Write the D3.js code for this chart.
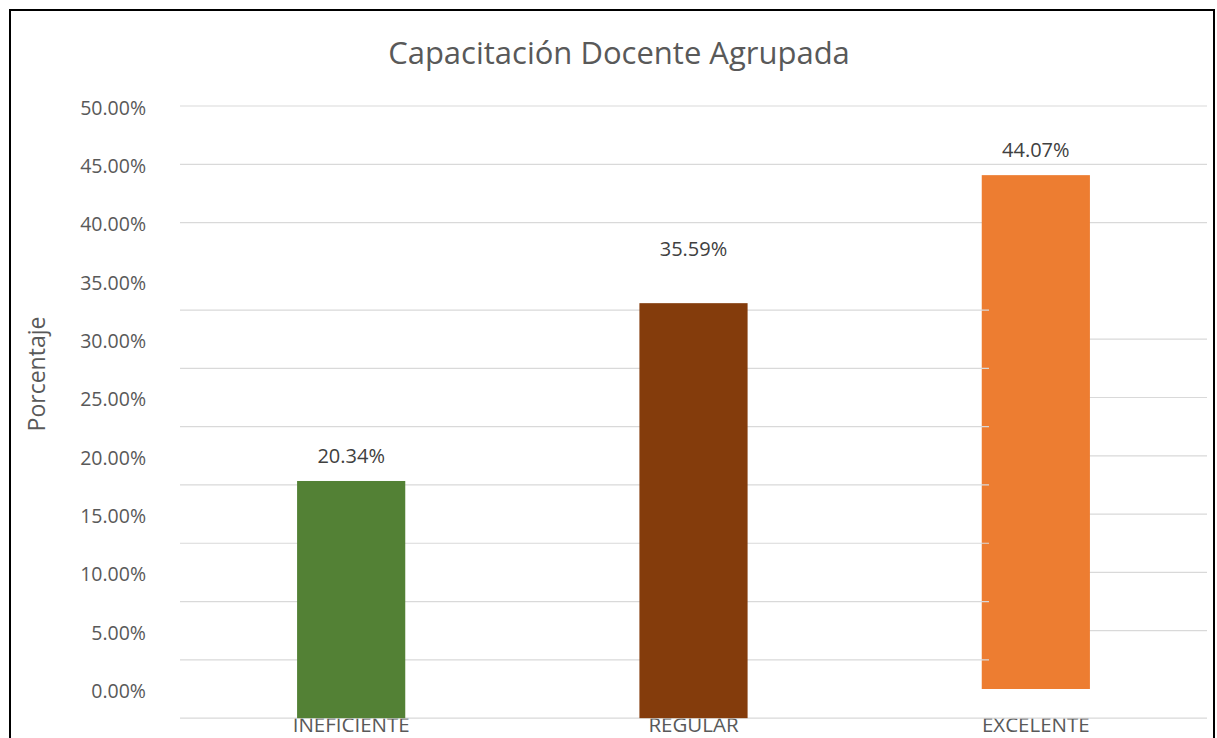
<!DOCTYPE html>
<html>
<head>
<meta charset="utf-8">
<script src="https://cdn.jsdelivr.net/npm/d3@7"></script>
<style>
  body { margin: 0; background: #fff; }
  text { font-family: "Open Sans", "Noto Sans", sans-serif; }
</style>
</head>
<body>
<script>
const width = 1217;
const height = 738;

// data
const categories = ["INEFICIENTE", "REGULAR", "EXCELENTE"];
const values = [0.2034, 0.3559, 0.4407];
const colors = ["#538135", "#843C0C", "#ED7D31"];
const ticks = d3.range(0, 11).map((d) => d * 0.05);

const svg = d3.select("body").append("svg")
  .attr("width", width)
  .attr("height", height);

// frame
svg.append("rect")
  .attr("x", 10).attr("y", 10)
  .attr("width", 1204).attr("height", 760)
  .attr("fill", "#fff")
  .attr("stroke", "#000")
  .attr("stroke-width", 2);

const left = 180, right = 1207;
const x = d3.scaleBand().domain(categories).range([left, right]).paddingInner(0.684).paddingOuter(0.342);
const y = d3.scaleLinear().domain([0, 0.5]).range([689, 106]);

// the left part of the plot is drawn half a step lower
const dy = (y(0) - y(0.05)) / 2;
const split = 989;
const pct = d3.format(".2%");

svg.append("text")
  .attr("x", 619).attr("y", 64)
  .attr("text-anchor", "middle")
  .attr("font-size", 31)
  .attr("fill", "#595959")
  .text("Capacitación Docente Agrupada");

svg.append("text")
  .attr("transform", "translate(45,374) rotate(-90)")
  .attr("text-anchor", "middle")
  .attr("font-size", 23)
  .attr("fill", "#595959")
  .text("Porcentaje");

// tick labels
svg.append("g")
  .selectAll("text")
  .data(ticks)
  .join("text")
  .attr("x", 146)
  .attr("y", (d) => y(d) + 2)
  .attr("dy", "0.35em")
  .attr("text-anchor", "end")
  .attr("font-size", 19.5)
  .attr("fill", "#595959")
  .text((d) => pct(d));

// category labels (partly under the bars)
svg.append("g")
  .selectAll("text")
  .data(categories)
  .join("text")
  .attr("x", (d) => x(d) + x.bandwidth() / 2)
  .attr("y", 732)
  .attr("text-anchor", "middle")
  .attr("font-size", 20.5)
  .attr("fill", "#595959")
  .text((d) => d);

const grid = svg.append("g").attr("stroke", "#d9d9d9").attr("stroke-width", 1.2);

// upper gridlines, full width
grid.selectAll(".top")
  .data(ticks.filter((d) => d >= 0.399))
  .join("line")
  .attr("x1", left).attr("x2", right)
  .attr("y1", (d) => y(d)).attr("y2", (d) => y(d));

// right part gridlines
grid.selectAll(".right")
  .data(ticks.filter((d) => d > 0.01 && d < 0.31))
  .join("line")
  .attr("x1", split).attr("x2", right)
  .attr("y1", (d) => y(d)).attr("y2", (d) => y(d));

const bars = svg.append("g");

bars.append("rect")
  .attr("x", x(categories[2]))
  .attr("y", y(values[2]))
  .attr("width", x.bandwidth())
  .attr("height", y(0) - y(values[2]))
  .attr("fill", colors[2]);

// left part gridlines, shifted
svg.append("g").attr("stroke", "#d9d9d9").attr("stroke-width", 1.2)
  .selectAll("line")
  .data(ticks.filter((d) => d < 0.36))
  .join("line")
  .attr("x1", left)
  .attr("x2", (d) => d === 0 ? right : split)
  .attr("y1", (d) => y(d) + dy).attr("y2", (d) => y(d) + dy);

svg.append("g")
  .selectAll("rect")
  .data(values.slice(0, 2))
  .join("rect")
  .attr("x", (d, i) => x(categories[i]))
  .attr("y", (d) => y(d) + dy)
  .attr("width", x.bandwidth())
  .attr("height", (d) => y(0) - y(d))
  .attr("fill", (d, i) => colors[i]);

// data labels
svg.append("g")
  .selectAll("text")
  .data(values)
  .join("text")
  .attr("x", (d, i) => x(categories[i]) + x.bandwidth() / 2)
  .attr("y", (d, i) => y(d) - 18 + (i === 0 ? dy : 0))
  .attr("text-anchor", "middle")
  .attr("font-size", 20)
  .attr("fill", "#404040")
  .text((d) => pct(d));
</script>
</body>
</html>
